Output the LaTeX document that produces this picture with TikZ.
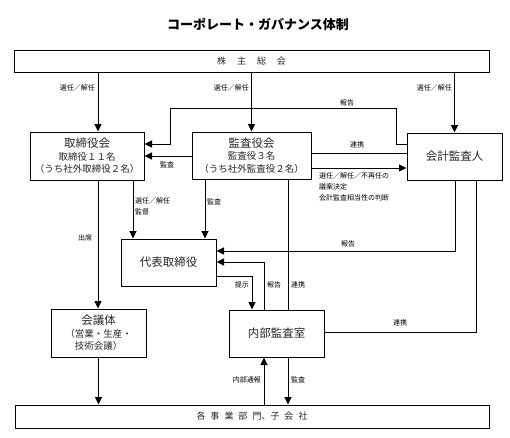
\documentclass[tikz,border=0pt]{standalone}
\usepackage{fontspec}
\newfontfamily\jp{Noto Sans CJK JP}
\usetikzlibrary{arrows.meta, positioning}
\newcommand\subtxt{\fontsize{9.5}{12}\selectfont}

\begin{document}
\begin{tikzpicture}[x=1pt, y=-1pt,
  box/.style={rectangle, draw=black, line width=1pt, align=center,
    inner sep=0pt, text=black!85, font=\jp\fontsize{11.5}{12.5}\selectfont},
  arr/.style={-{Triangle[length=7.5pt,width=7pt]}, line width=1pt},
  ln/.style={line width=1pt},
  lbl/.style={font=\jp\fontsize{7}{11}\selectfont, inner sep=1pt, align=left}]
  \useasboundingbox (0,0) rectangle (510,437);

  \node (title) at (258,24) {\jp\bfseries\fontsize{13}{15}\selectfont コーポレート・ガバナンス体制};

  \node (gm) [box, minimum width=475pt, minimum height=22pt,
    font=\jp\fontsize{9}{11}\selectfont] at (251.5,61)
    {株\hspace{11pt}主\hspace{11pt}総\hspace{11pt}会};

  \node (board) [box, minimum width=114pt, minimum height=48pt] at (87,156)
    {取締役会\\\subtxt 取締役１１名\\\subtxt （うち社外取締役２名）};
  \node (audit) [box, minimum width=119pt, minimum height=47pt] at (251.5,155.5)
    {監査役会\\\subtxt 監査役３名\\\subtxt （うち社外監査役２名）};
  \node (acct) [box, minimum width=95pt, minimum height=47pt] at (454.5,156.5) {会計監査人};

  \node (rep) [box, minimum width=95pt, minimum height=47pt] at (168.5,262.5) {代表取締役};
  \node (conf) [box, minimum width=95pt, minimum height=48pt] at (98.5,333)
    {会議体\\\subtxt （営業・生産・\\\subtxt 技術会議）};
  \node (ia) [box, minimum width=95pt, minimum height=47pt] at (276.5,333.5) {内部監査室};

  \node (div) [box, minimum width=474pt, minimum height=23pt,
    font=\jp\fontsize{9}{11}\selectfont] at (252,416.5)
    {各\hspace{5pt}事\hspace{5pt}業\hspace{5pt}部\hspace{5pt}門、子\hspace{5pt}会\hspace{5pt}社};

  % shareholders' meeting
  \draw[arr] (gm.south -| 98,0) -- (board.north -| 98,0);
  \draw[arr] (gm.south -| audit.north) -- (audit.north);
  \draw[arr] (gm.south -| acct.north) -- (acct.north);
  \node (l1) [lbl, anchor=east] at (96,88) {選任／解任};
  \node (l2) [lbl, anchor=east] at (250,88) {選任／解任};
  \node (l3) [lbl, anchor=east] at (453,88) {選任／解任};

  % between the boards
  \draw[arr] (acct.west |- 0,144) -| (396,108) -| (170,144) -- (board.east |- 0,144);
  \node (l4) [lbl] at (347,103) {報告};
  \draw[arr] (audit.west |- 0,156) -- (board.east |- 0,156);
  \node (l5) [lbl] at (167,165) {監査};
  \draw[ln] (audit.east |- 0,153) -- (acct.west |- 0,153);
  \node (l6) [lbl] at (357,145) {連携};
  \draw[arr] (audit.east |- 0,168) -- (acct.west |- 0,168);
  \node (l7) [lbl, anchor=north west] at (318,171)
    {選任／解任／不再任の\\議案決定\\会計監査相当性の判断};

  % down to the representative director
  \draw[arr] (board.south -| 98,0) -- (conf.north -| 98,0);
  \node (l8) [lbl] at (85,238) {出席};
  \draw[arr] (board.south -| 133,0) -- (rep.north -| 133,0);
  \node (l9) [lbl, anchor=north west] at (134,196) {選任／解任\\監督};
  \draw[arr] (audit.south -| 205,0) -- (rep.north -| 205,0);
  \node (l10) [lbl, anchor=west] at (206,202) {監査};
  \draw[arr] (acct.south -| 455,0) |- (rep.east |- 0,251);
  \node (l11) [lbl] at (348,244) {報告};

  % internal audit office
  \draw[arr] (ia.north -| 264,0) |- (rep.east |- 0,262);
  \node (l12) [lbl, anchor=west] at (266,285) {報告};
  \draw[arr] (rep.east |- 0,276) -| (ia.north -| 252,0);
  \node (l13) [lbl, anchor=east] at (250,285) {提示};
  \draw[ln] (audit.south -| 288,0) -- (ia.north -| 288,0);
  \node (l14) [lbl, anchor=west] at (290,285) {連携};
  \draw[ln] (ia.east |- 0,332) -| (acct.south -| 476,0);
  \node (l15) [lbl] at (400,323) {連携};

  % to the divisions
  \draw[arr] (conf.south) -- (div.north -| conf.south);
  \draw[arr] (div.north -| 264,0) -- (ia.south -| 264,0);
  \node (l16) [lbl, anchor=east] at (262,380) {内部通報};
  \draw[arr] (ia.south -| 288,0) -- (div.north -| 288,0);
  \node (l17) [lbl, anchor=west] at (290,380) {監査};
\end{tikzpicture}
\end{document}
